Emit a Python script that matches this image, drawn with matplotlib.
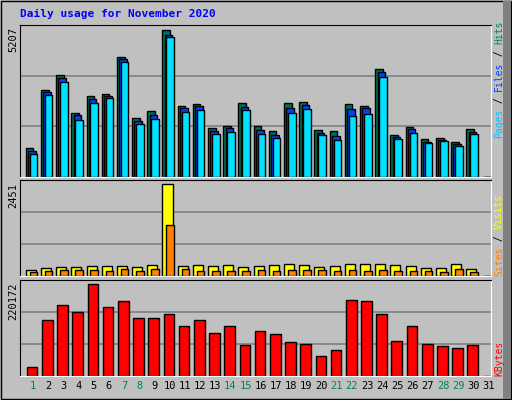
import numpy as np
import matplotlib.pyplot as plt
from matplotlib.patches import Rectangle

days = np.arange(1, 32)
hits = [1003, 3056, 3587, 2242, 2844, 2915, 4224, 2065, 2313, 5207, 2490, 2561, 1711, 1782, 2596, 1782,
        1605, 2596, 2631, 1640, 1605, 2561, 2490, 3800, 1463, 1746, 1322, 1357, 1215, 1676, 0]
files = [920, 2985, 3481, 2171, 2761, 2844, 4177, 1982, 2171, 5003, 2419, 2490, 1617, 1723, 2454, 1640,
         1463, 2419, 2525, 1534, 1428, 2384, 2419, 3693, 1392, 1676, 1215, 1286, 1145, 1569, 0]
pages = [790, 2879, 3351, 2006, 2596, 2785, 4059, 1864, 2041, 4932, 2277, 2360, 1499, 1569, 2360, 1499,
         1357, 2242, 2384, 1463, 1286, 2136, 2207, 3516, 1322, 1534, 1180, 1251, 1074, 1499, 0]
sites = [160, 213, 240, 240, 266, 266, 266, 240, 293, 2451, 266, 293, 266, 293, 240, 266,
         293, 320, 293, 240, 266, 320, 320, 320, 293, 266, 213, 213, 320, 186, 0]
visits = [124, 151, 160, 160, 160, 133, 186, 133, 186, 1359, 186, 133, 133, 133, 133, 160,
          133, 160, 160, 160, 133, 160, 133, 160, 133, 133, 133, 107, 186, 107, 0]
kbytes = [20090, 133380, 169540, 152670, 220172, 164720, 179180, 138200, 138200, 147840, 118920,
          133380, 102040, 118920, 73120, 106870, 99630, 80350, 75530, 46600, 61070, 181590,
          179180, 147840, 82760, 118920, 75530, 70710, 65890, 73120, 0]
weekend = [1, 7, 8, 14, 15, 21, 22, 28, 29]

BG = '#C0C0C0'
mono = 'DejaVu Sans Mono'
fig = plt.figure(figsize=(5.12, 4.0), dpi=100, facecolor=BG)

# outer frame
fig.patches.append(Rectangle((0.002, 0.003), 0.996, 0.994, transform=fig.transFigure,
                             fill=False, edgecolor='black', lw=1))
fig.patches.append(Rectangle((0.982, 0.003), 0.016, 0.994, transform=fig.transFigure,
                             color='#808080', lw=0))

def panel(rect, top):
    ax = fig.add_axes(rect, facecolor=BG)
    ax.set_xlim(0.5, 31.5)
    ax.set_ylim(0, top)
    for y in (top / 3, 2 * top / 3):
        ax.axhline(y, color='#808080', lw=1.2, zorder=0)
    ax.set_xticks([])
    ax.set_yticks([])
    for s in ('left', 'top'):
        ax.spines[s].set_color('black')
    for s in ('right', 'bottom'):
        ax.spines[s].set_color('white')
    return ax

d = np.array(days, dtype=float)
ax1 = panel([0.039, 0.558, 0.920, 0.3795], 5373)
kw = dict(align='edge', edgecolor='black', linewidth=1)
ax1.bar(d - 0.12, hits, 0.5, color='#006F4F', **kw)
ax1.bar(d + 0.03, files, 0.5, color='#0040FF', **kw)
ax1.bar(d + 0.14, pages, 0.5, color='#00E0FF', **kw)

ax2 = panel([0.039, 0.309, 0.920, 0.241], 2558)
ax2.bar(d - 0.12, sites, 0.66, color='#FFFF00', **kw)
ax2.bar(d + 0.14, visits, 0.5, color='#FF8000', **kw)

ax3 = panel([0.039, 0.061, 0.920, 0.239], 230000)
ax3.bar(d - 0.05, kbytes, 0.7, color='#FF0000', **kw)

for day in days:
    ax3.text(day + 0.35, -0.06, str(day), transform=ax3.get_xaxis_transform(),
             ha='center', va='top', fontsize=7.5, family=mono,
             color='#00805F' if day in weekend else 'black')

fig.text(20 / 512, 1 - 14 / 400, 'Daily usage for November 2020', color='#0000FF',
         fontsize=8, family=mono, fontweight='bold', va='center')
for txt, ytop in (('5207', 27), ('2451', 183), ('220172', 282)):
    fig.text(13 / 512, 1 - ytop / 400, txt, rotation=90, ha='center', va='top',
             fontsize=7.5, family=mono)

def side_label(parts, ybottom):
    cw = 5.85  # px per char
    y = ybottom
    for txt, col in parts:
        fig.text(499 / 512, 1 - y / 400, txt, rotation=90, ha='center', va='bottom',
                 fontsize=7, family=mono, color=col)
        y -= cw * len(txt)

side_label([('Pages', '#00C0FF'), (' / ', 'black'), ('Files', '#0040FF'),
            (' / ', 'black'), ('Hits', '#00805F')], 138)
side_label([('Sites', '#FF8000'), (' / ', 'black'), ('Visits', '#FFFF00')], 276)
side_label([('KBytes', '#FF0000')], 376)

fig.savefig('out.png', dpi=100, facecolor=BG)
